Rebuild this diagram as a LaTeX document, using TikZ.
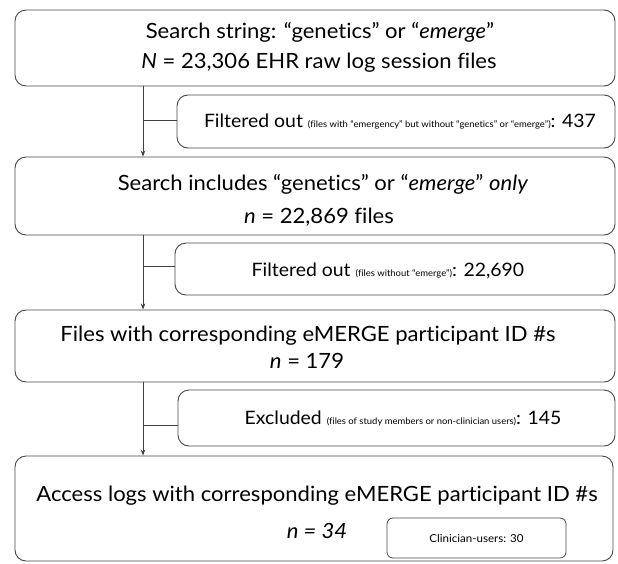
\documentclass[tikz,border=0pt]{standalone}
\usepackage{fontspec}
\setmainfont{Lato}[Ligatures={NoCommon},FakeStretch=1.05]
\usetikzlibrary{arrows.meta,calc}
\tikzset{
  x=1pt,y=-1pt,
  boxstyle/.style={draw=black!72,line width=0.9pt,rounded corners=11pt,inner sep=0pt},
  bigtxt/.style={font=\fontsize{21}{25}\selectfont,inner sep=0pt,anchor=base},
  midtxt/.style={font=\fontsize{18.5}{22}\selectfont,inner sep=0pt,anchor=base},
  link/.style={draw=black!75,line width=0.8pt},
  arr/.style={link,-{Stealth[length=6pt,width=4.5pt]}}
}
\newcommand{\sm}[1]{{\fontsize{9}{10}\selectfont #1}}
\begin{document}
\begin{tikzpicture}
\useasboundingbox[fill=white] (0,0) rectangle (618,563);
\coordinate (spine) at (143,0);
% box 1
\node[boxstyle,minimum width=600pt,minimum height=76pt] (b1) at (315,48) {};
\node[bigtxt] (t1a) at (320,38) {Search string: “genetics” or “\textit{emerge}”};
\node[bigtxt] (t1b) at (319,68) {\textit{N} = 23,306 EHR raw log session files};
% filter 1
\node[boxstyle,minimum width=438pt,minimum height=53pt] (f1) at (396,121.5) {};
\node[midtxt] (ft1) at (400,127) {Filtered out \sm{(files with “emergency” but without “genetics” or “emerge”)}: 437};
% box 2
\node[boxstyle,minimum width=600pt,minimum height=78pt] (b2) at (315,196) {};
\node[bigtxt] (t2a) at (323,190) {Search includes “genetics” or “\textit{emerge}” \textit{only}};
\node[bigtxt] (t2b) at (319,223) {\textit{n} = 22,869 files};
% filter 2
\node[boxstyle,minimum width=440pt,minimum height=52pt] (f2) at (395,269) {};
\node[midtxt] (ft2) at (388,276) {Filtered out \sm{(files without “emerge”)}: 22,690};
% box 3
\node[boxstyle,minimum width=600pt,minimum height=72pt] (b3) at (315,346) {};
\node[bigtxt] (t3a) at (308,341) {Files with corresponding eMERGE participant ID \#s};
\node[bigtxt] (t3b) at (307,368) {\textit{n} = 179};
% filter 3
\node[boxstyle,minimum width=437pt,minimum height=56pt] (f3) at (396.5,418) {};
\node[midtxt] (ft3) at (403,424) {Excluded \sm{(files of study members or non-clinician users)}: 145};
% box 4
\node[boxstyle,minimum width=598pt,minimum height=105pt] (b4) at (314,508.5) {};
\node[bigtxt] (t4a) at (317,501) {Access logs with corresponding eMERGE participant ID \#s};
\node[bigtxt] (t4b) at (317,538) {\textit{n = 34}};
\node[draw=black!72,line width=0.8pt,rounded corners=6pt,minimum width=179pt,minimum height=40pt,inner sep=0pt,font=\fontsize{11}{13}\selectfont] (cu) at (476.5,538) {Clinician-users: 30};
% connectors
\draw[arr] (b1.south -| spine) -- (b2.north -| spine);
\draw[link] ($(f1.west)+(0,-1)$) -- ($(f1.west -| spine)+(0,-1)$);
\draw[arr] (b2.south -| spine) -- (b3.north -| spine);
\draw[link] ($(f2.west)+(0,-3)$) -- ($(f2.west -| spine)+(0,-3)$);
\draw[arr] (b3.south -| spine) -- (b4.north -| spine);
\draw[link] ($(f3.west)+(0,7)$) -- ($(f3.west -| spine)+(0,7)$);
\end{tikzpicture}
\end{document}
